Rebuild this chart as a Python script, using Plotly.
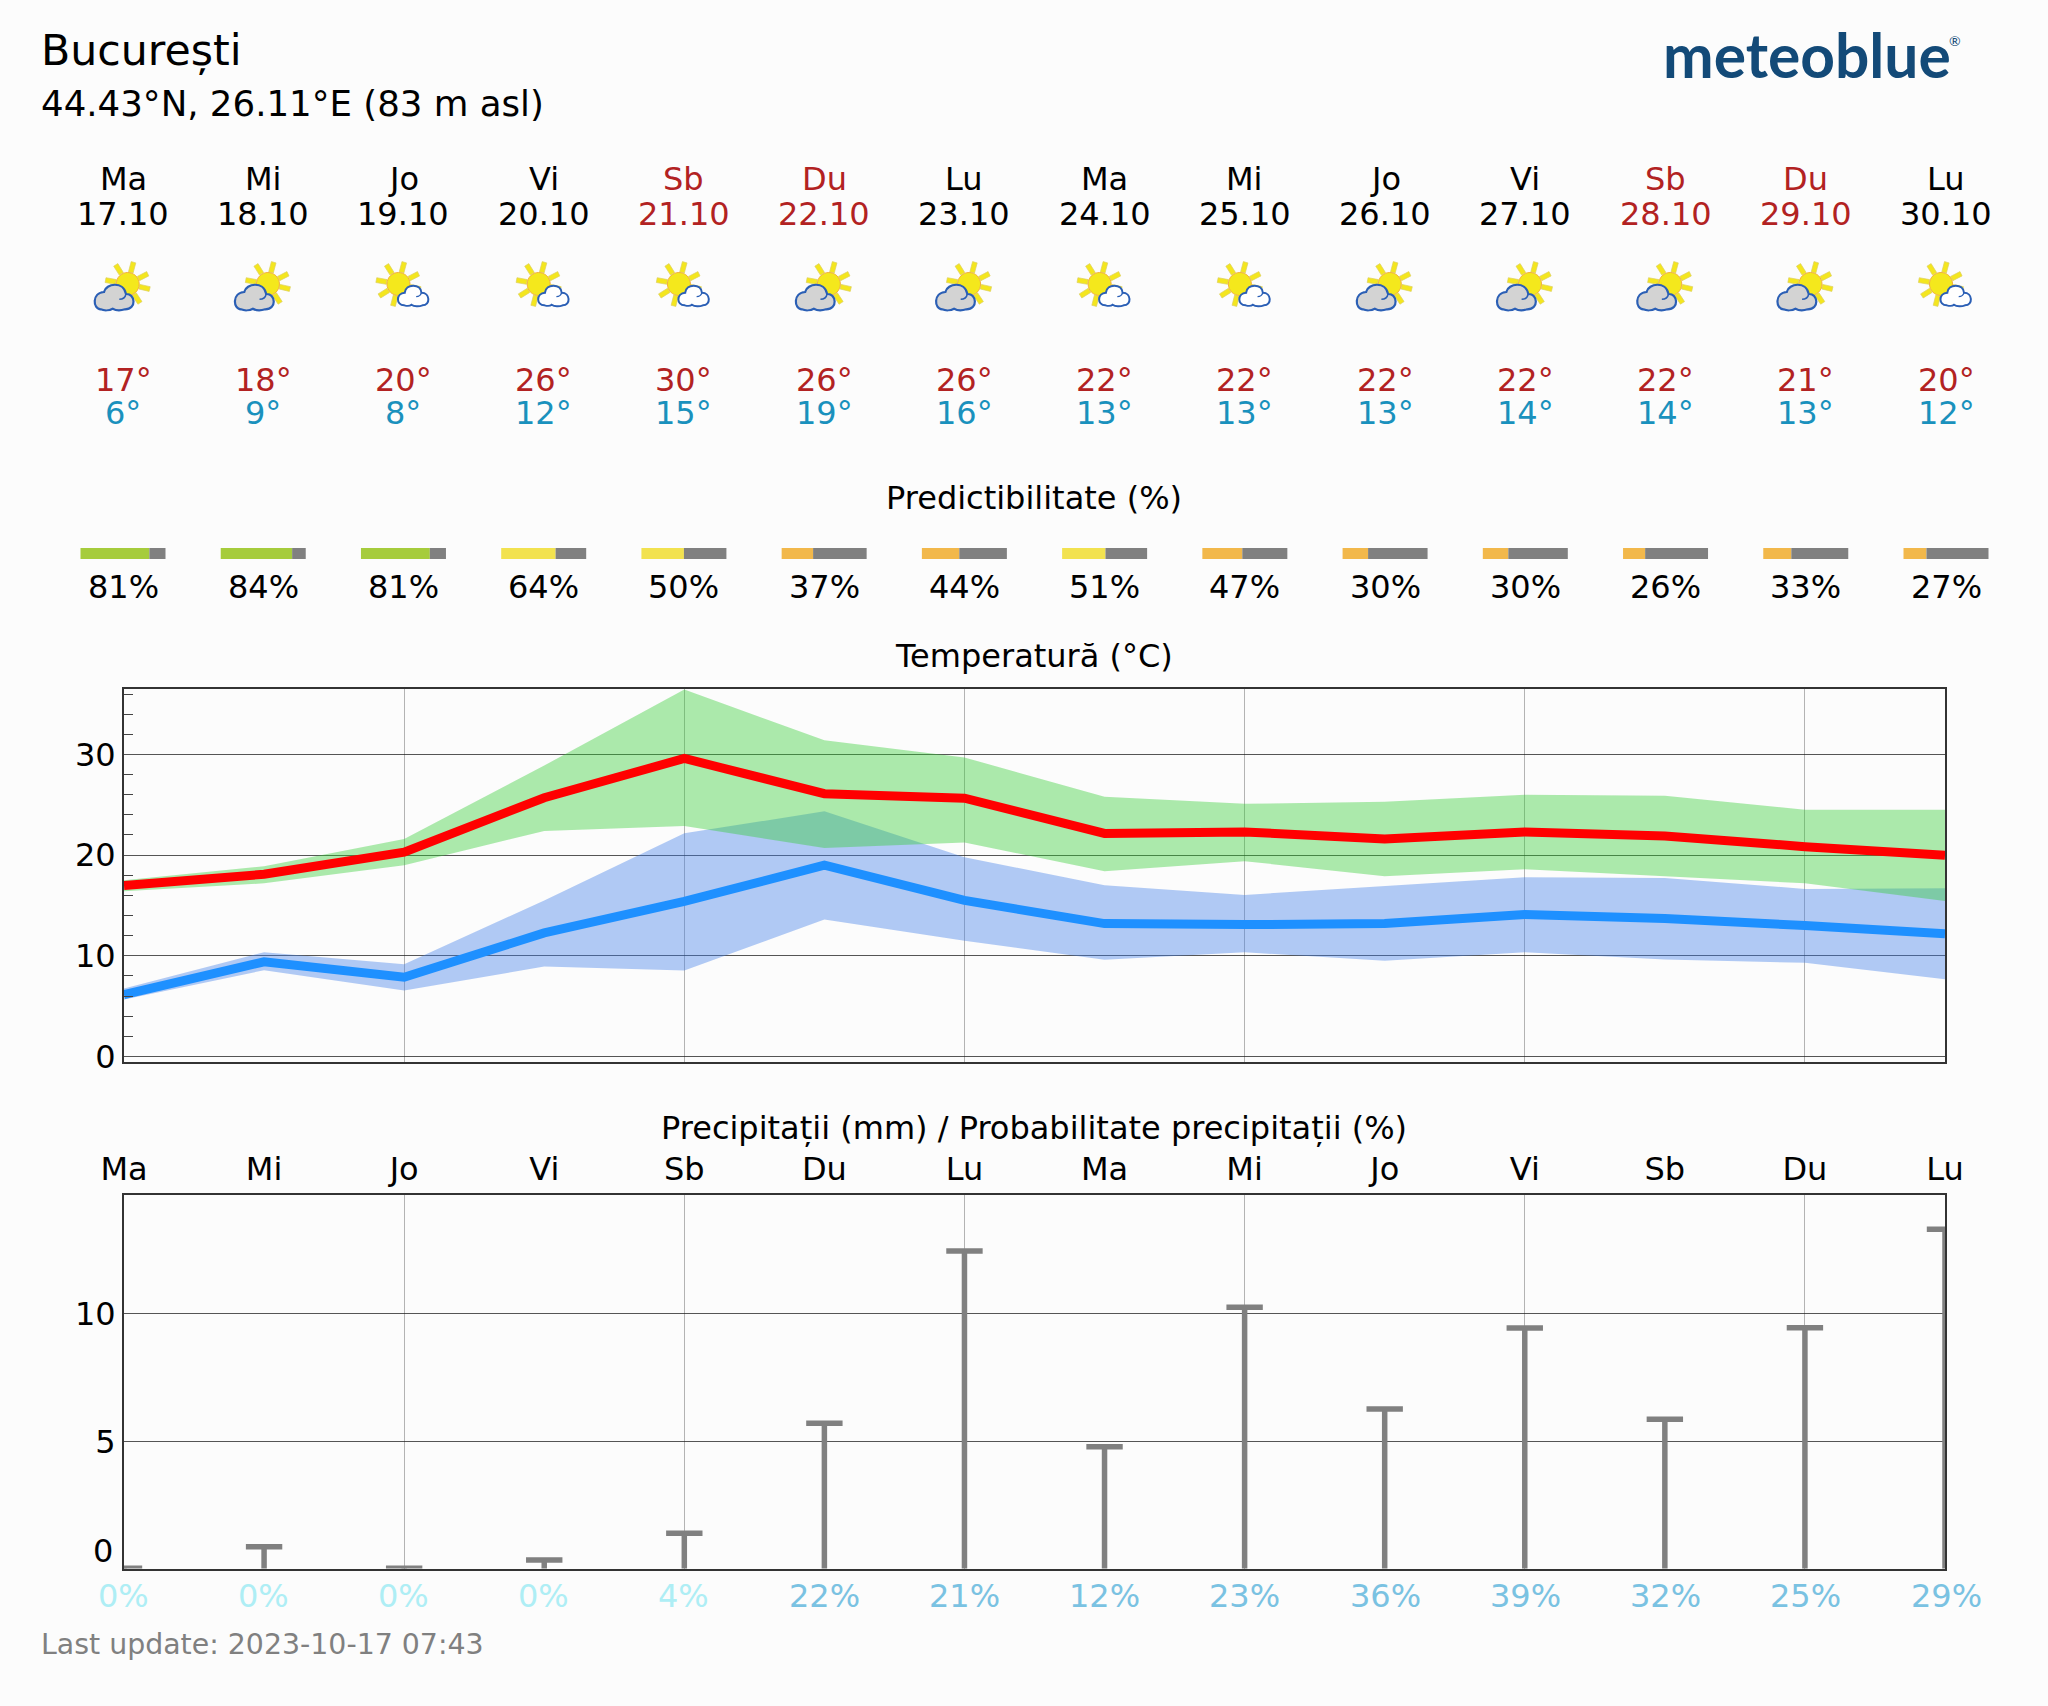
import math
import plotly.graph_objects as go

W, H = 2048, 1706
DAYS = ["Ma", "Mi", "Jo", "Vi", "Sb", "Du", "Lu", "Ma", "Mi", "Jo", "Vi", "Sb", "Du", "Lu"]
DATES = ["17.10", "18.10", "19.10", "20.10", "21.10", "22.10", "23.10", "24.10", "25.10", "26.10", "27.10", "28.10", "29.10", "30.10"]
ICONS = ["big", "big", "small", "small", "small", "big", "big", "small", "small", "big", "big", "big", "big", "small"]
HI_LABEL = [17, 18, 20, 26, 30, 26, 26, 22, 22, 22, 22, 22, 21, 20]
LO_LABEL = [6, 9, 8, 12, 15, 19, 16, 13, 13, 13, 14, 14, 13, 12]
PREDICT = [81, 84, 81, 64, 50, 37, 44, 51, 47, 30, 30, 26, 33, 27]
T_MAX = [16.97, 18.1, 20.3, 25.7, 29.6, 26.1, 25.65, 22.15, 22.3, 21.6, 22.3, 21.9, 20.84, 19.98]
T_MIN = [6.15, 9.4, 7.87, 12.27, 15.4, 19.0, 15.5, 13.2, 13.1, 13.2, 14.1, 13.7, 13.0, 12.2]
T_MAX_HI = [17.5, 18.9, 21.6, 28.9, 36.45, 31.4, 29.7, 25.8, 25.1, 25.3, 26.0, 25.9, 24.5, 24.5]
T_MAX_LO = [16.4, 17.2, 19.0, 22.4, 22.9, 20.7, 21.25, 18.4, 19.4, 17.9, 18.6, 17.9, 17.2, 15.45]
T_MIN_HI = [6.75, 10.35, 9.16, 15.5, 22.16, 24.35, 19.8, 17.0, 16.05, 16.9, 17.8, 17.73, 16.64, 16.7]
T_MIN_LO = [5.65, 8.57, 6.55, 8.93, 8.53, 13.6, 11.5, 9.6, 10.35, 9.5, 10.35, 9.63, 9.3, 7.67]
PRECIP = [0.05, 0.89, 0.05, 0.37, 1.42, 5.72, 12.45, 4.8, 10.25, 6.27, 9.44, 5.87, 9.45, 13.3]
PROB = [0, 0, 0, 0, 4, 22, 21, 12, 23, 36, 39, 32, 25, 29]

X = list(range(14))
BG = "#FCFCFC"
FONT = "DejaVu Sans"
L, R = 123.0, 1946.0
PX_DAY = (R - L) / 13

def py(y):
    return 1 - y / H

def px(x):
    return x / W

GRID_H = "rgba(30,30,30,0.75)"
GRID_V = "rgba(60,60,60,0.38)"
FRAME = "#333333"

fig = go.Figure()

def band(lo, hi, color):
    fig.add_trace(go.Scatter(x=X, y=lo, mode="lines", line=dict(width=0), hoverinfo="skip", showlegend=False))
    fig.add_trace(go.Scatter(x=X, y=hi, mode="lines", line=dict(width=0), fill="tonexty", fillcolor=color,
                             hoverinfo="skip", showlegend=False))

band(T_MIN_LO, T_MIN_HI, "rgba(62,124,232,0.4)")
band(T_MAX_LO, T_MAX_HI, "rgba(50,205,50,0.4)")
fig.add_trace(go.Scatter(x=X, y=T_MAX, mode="lines", line=dict(color="#FF0000", width=9), showlegend=False))
fig.add_trace(go.Scatter(x=X, y=T_MIN, mode="lines", line=dict(color="#1E90FF", width=9), showlegend=False))

fig.add_trace(go.Scatter(
    x=X, y=PRECIP, xaxis="x2", yaxis="y2", mode="markers", showlegend=False,
    marker=dict(symbol="line-ew", size=26, line=dict(width=5.5, color="#808080"), color="#808080"),
    error_y=dict(type="data", symmetric=False, array=[0] * 14, arrayminus=PRECIP,
                 thickness=5.5, width=0, color="#808080"),
))

def pred_color(p):
    if p >= 70:
        return "#A6CC3C"
    if p >= 50:
        return "#F2E24F"
    return "#F2B84B"

BAR_W = 85 / PX_DAY
left = [i - BAR_W / 2 for i in X]
seg = [BAR_W * p / 100 for p in PREDICT]
fig.add_trace(go.Bar(orientation="h", y=[0.5] * 14, x=seg, base=left, width=1, xaxis="x3", yaxis="y3",
                     marker=dict(color=[pred_color(p) for p in PREDICT], line=dict(width=0)), showlegend=False))
fig.add_trace(go.Bar(orientation="h", y=[0.5] * 14, x=[BAR_W - s for s in seg], base=[l + s for l, s in zip(left, seg)],
                     width=1, xaxis="x3", yaxis="y3",
                     marker=dict(color="#808080", line=dict(width=0)), showlegend=False))

ann = []

def text(s, baseline, size, color="#000000", x=None, day=None, anchor="center", family=FONT):
    y = py(baseline + 0.236 * size)
    d = dict(text=s, y=y, yref="paper", yanchor="bottom", showarrow=False, borderpad=0, borderwidth=0,
             font=dict(family=family, size=size, color=color), xanchor=anchor)
    if day is not None:
        d.update(x=day, xref="x3")
    else:
        d.update(x=px(x), xref="paper")
    ann.append(d)

TS = 32
text("București", 65, 42.7, x=41, anchor="left")
text("44.43°N, 26.11°E (83 m asl)", 116, 35.6, x=41, anchor="left")
RED, CYAN = "#B22222", "#1A91BD"
for i in X:
    c = RED if DAYS[i] in ("Sb", "Du") else "#000000"
    text(DAYS[i], 190, TS, c, day=i)
    text(DATES[i], 225, TS, c, day=i)
    text(f"{HI_LABEL[i]}°", 391.5, TS, RED, day=i)
    text(f"{LO_LABEL[i]}°", 424.5, TS, CYAN, day=i)
    text(f"{PREDICT[i]}%", 598, TS, day=i)
    text(f"{PROB[i]}%", 1607.5, TS, "#AEEEF5" if PROB[i] < 10 else "#7AC2E2", day=i)
text("Predictibilitate (%)", 509, TS, x=1034)
text("Temperatură (°C)", 667, TS, x=1034)
text("Precipitații (mm) / Probabilitate precipitații (%)", 1139, TS, x=1034)
text("Last update: 2023-10-17 07:43", 1654, 28.4, "#808080", x=41, anchor="left")
text("<b>meteoblue</b>", 77, 60.5, "#134A78", x=1663, anchor="left", family="Lato")
text("®", 46, 14, "#134A78", x=1949, anchor="left", family="Lato")
ann.append(dict(text="0", x=0, xref="x3", y=0.04, yref="y2", xanchor="right", yanchor="bottom", xshift=-9, yshift=-2,
                showarrow=False, borderpad=0, font=dict(family=FONT, size=TS, color="#000000")))

# weather icons
def cpath(cx, cy, r):
    k = 0.5523 * r
    return (f"M {cx+r} {cy} C {cx+r} {cy+k} {cx+k} {cy+r} {cx} {cy+r} C {cx-k} {cy+r} {cx-r} {cy+k} {cx-r} {cy} "
            f"C {cx-r} {cy-k} {cx-k} {cy-r} {cx} {cy-r} C {cx+k} {cy-r} {cx+r} {cy-k} {cx+r} {cy} Z")

def ray(cx, cy, a, r1=12, r2=22.5, hw=2.4):
    a = math.radians(a)
    ux, uy = math.cos(a), math.sin(a)
    vx, vy = -uy, ux
    pts = [(cx + ux*r1 + vx*hw, cy + uy*r1 + vy*hw), (cx + ux*r2 + vx*hw, cy + uy*r2 + vy*hw),
           (cx + ux*r2 - vx*hw, cy + uy*r2 - vy*hw), (cx + ux*r1 - vx*hw, cy + uy*r1 - vy*hw)]
    return "M " + " L ".join(f"{p[0]:.1f} {p[1]:.1f}" for p in pts) + " Z"

def zpath(cmds, ox, oy):
    out = []
    for c in cmds:
        if isinstance(c, str):
            out.append(c)
        else:
            out.append(f"{(c[0]-ox)/3:.1f} {(oy-c[1])/3:.1f}")
    return " ".join(out)

BIG = zpath(["M", (62, 178), "C", (38, 178), (35, 128), (72, 126), "C", (78, 100), (130, 92), (138, 132),
             "C", (165, 130), (172, 178), (135, 178), "C", (122, 182), (108, 182), (98, 176),
             "C", (88, 182), (72, 182), (62, 178), "Z"], 129, 102)
BIG_IN = zpath(["M", (138, 132), "C", (136, 142), (128, 148), (118, 148)], 129, 102)
SMALL = zpath(["M", (1040, 916), "C", (1015, 916), (1015, 880), (1042, 878), "C", (1045, 850), (1090, 850), (1092, 878),
               "C", (1118, 878), (1120, 916), (1095, 916), "C", (1085, 920), (1070, 920), (1062, 914),
               "C", (1055, 920), (1048, 918), (1040, 916), "Z"], 1038, 852)
SMALL_IN = zpath(["M", (1092, 878), "C", (1090, 886), (1084, 890), (1076, 890)], 1038, 852)

shapes = []
ICON_Y = py(284)

def icon_shape(i, path, fill, line, lw):
    shapes.append(dict(type="path", path=path, xref="x3", yref="paper", xsizemode="pixel", ysizemode="pixel",
                       xanchor=i, yanchor=ICON_Y, fillcolor=fill, line=dict(color=line, width=lw), layer="above"))

for i, k in zip(X, ICONS):
    sx = 4.7 if k == "big" else -5.0
    for a in (27, 75, 122, 170, 212, 256, 303, 347):
        icon_shape(i, ray(sx, 0, a), "#F4E61E", "#DDD060", 0.7)
    icon_shape(i, cpath(sx, 0, 11.5), "#F4E81C", "#F3B03C", 1)
    if k == "big":
        icon_shape(i, BIG, "#D3D3D3", "#2B5FB5", 2.2)
        icon_shape(i, BIG_IN, "rgba(0,0,0,0)", "#2B5FB5", 1.5)
    else:
        icon_shape(i, SMALL, "#FFFFFF", "#2B5FB5", 2)
        icon_shape(i, SMALL_IN, "rgba(0,0,0,0)", "#2B5FB5", 1.3)

xdom = [px(L + 1), px(R - 1)]
frame = dict(showline=True, linecolor=FRAME, linewidth=2, mirror=True, zeroline=False)
EVEN = [2, 4, 6, 8, 10, 12]
tfont = dict(family=FONT, size=TS, color="#000000")

fig.update_layout(
    width=W, height=H, autosize=False, margin=dict(l=0, r=0, t=0, b=0, pad=0, autoexpand=False),
    paper_bgcolor=BG, plot_bgcolor=BG, showlegend=False, barmode="overlay",
    font=dict(family=FONT),
    annotations=ann, shapes=shapes,
    xaxis=dict(domain=xdom, range=[0, 13], anchor="y", tickvals=EVEN, showticklabels=False, ticks="",
               showgrid=True, gridcolor=GRID_V, gridwidth=1, **frame),
    yaxis=dict(domain=[py(1062), py(689)], range=[-0.55, 36.5], anchor="x", tickvals=[0, 10, 20, 30],
               tickfont=tfont, ticks="", showgrid=True, gridcolor=GRID_H, gridwidth=1.3, ticklabelstandoff=0,
               minor=dict(tickvals=[2, 4, 6, 8, 12, 14, 16, 18, 22, 24, 26, 28, 32, 34, 36], ticks="inside", ticklen=9,
                          tickcolor="#444444", tickwidth=1.3, showgrid=False), **frame),
    xaxis2=dict(domain=xdom, range=[0, 13], anchor="y2", side="top", tickvals=X, ticktext=DAYS, tickfont=tfont,
                ticks="", showgrid=False,
                minor=dict(tickvals=EVEN, showgrid=True, gridcolor=GRID_V, gridwidth=1, ticks=""), **frame),
    yaxis2=dict(domain=[py(1568.5), py(1195)], range=[0.04, 14.64], anchor="x2", tickvals=[5, 10], tickfont=tfont,
                ticks="", showgrid=True, gridcolor=GRID_H, gridwidth=1.3, ticklabelstandoff=0, **frame),
    xaxis3=dict(domain=[0, 1], range=[-L / PX_DAY, (W - L) / PX_DAY], anchor="y3", visible=False),
    yaxis3=dict(domain=[py(559), py(548)], range=[0, 1], anchor="x3", visible=False),
)

fig.write_html("out.html", post_script="document.body.style.margin='0';", config={"displayModeBar": False})
